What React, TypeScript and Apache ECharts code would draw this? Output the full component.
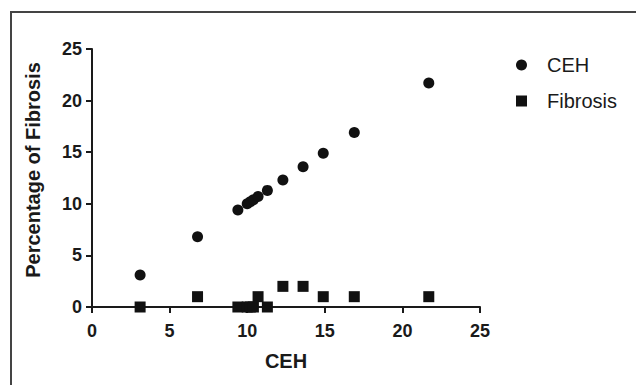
import React, { useEffect, useRef } from "react";
import * as echarts from "echarts";

const cehValues = [3.1, 6.8, 9.4, 10.0, 10.2, 10.4, 10.7, 11.3, 12.3, 13.6, 14.9, 16.9, 21.7];
const fibrosisValues = [0, 1, 0, 0, 0, 0, 1, 0, 2, 2, 1, 1, 1];
const seriesNames = ["CEH", "Fibrosis"];
const xAxisTitle = "CEH";
const yAxisTitle = "Percentage of Fibrosis";

export default function App() {
  const ref = useRef<HTMLDivElement>(null);
  useEffect(() => {
    if (!ref.current) return;
    const chart = echarts.init(ref.current, null, { renderer: "svg" });
    const font = "Liberation Sans, Arial, sans-serif";
    const axisCommon = {
      min: 0,
      max: 25,
      interval: 5,
      axisLine: { show: true, lineStyle: { color: "#1a1a1a", width: 2 } },
      axisTick: { show: true, length: 6, lineStyle: { color: "#1a1a1a", width: 2 } },
      splitLine: { show: false },
    };
    chart.setOption({
      animation: false,
      backgroundColor: "#ffffff",
      grid: { left: 92, right: 156, top: 49, bottom: 78, containLabel: false },
      xAxis: {
        type: "value",
        ...axisCommon,
        axisLabel: { fontFamily: font, fontSize: 18, fontWeight: "bold", color: "#1a1a1a", margin: 15 },
        name: xAxisTitle,
        nameLocation: "middle",
        nameGap: 44,
        nameTextStyle: { fontFamily: font, fontSize: 20, fontWeight: "bold", color: "#1a1a1a" },
      },
      yAxis: {
        type: "value",
        ...axisCommon,
        axisLabel: { fontFamily: font, fontSize: 18, fontWeight: "bold", color: "#1a1a1a", margin: 10 },
      },
      legend: {
        orient: "vertical",
        left: 511,
        top: 50,
        itemWidth: 11,
        itemHeight: 11,
        itemGap: 16,
        textStyle: { fontFamily: font, fontSize: 20, color: "#1a1a1a", padding: [0, 0, 0, 15] },
        data: [
          { name: seriesNames[0], icon: "circle" },
          { name: seriesNames[1], icon: "rect" },
        ],
      },
      graphic: [
        {
          type: "text",
          x: 33,
          y: 170,
          rotation: Math.PI / 2,
          style: {
            text: yAxisTitle,
            fontFamily: font,
            fontSize: 20,
            fontWeight: "bold",
            fill: "#1a1a1a",
            textAlign: "center",
            textVerticalAlign: "middle",
          },
        },
        {
          type: "polyline",
          shape: { points: [[11, 385], [11, 12], [636, 12]] },
          style: { stroke: "#444", lineWidth: 2, fill: "none" },
        },
      ],
      series: [
        {
          name: seriesNames[0],
          type: "scatter",
          symbol: "circle",
          symbolSize: 11,
          itemStyle: { color: "#111", opacity: 1 },
          data: cehValues.map((v) => [v, v]),
          z: 3,
        },
        {
          name: seriesNames[1],
          type: "scatter",
          symbol: "rect",
          symbolSize: 11,
          itemStyle: { color: "#111", opacity: 1 },
          data: cehValues.map((v, i) => [v, fibrosisValues[i]]),
          z: 3,
        },
      ],
    });
    return () => chart.dispose();
  }, []);
  return (
    <div
      ref={ref}
      style={{ position: "fixed", left: 0, top: 0, width: 636, height: 385, background: "#fff" }}
    />
  );
}
